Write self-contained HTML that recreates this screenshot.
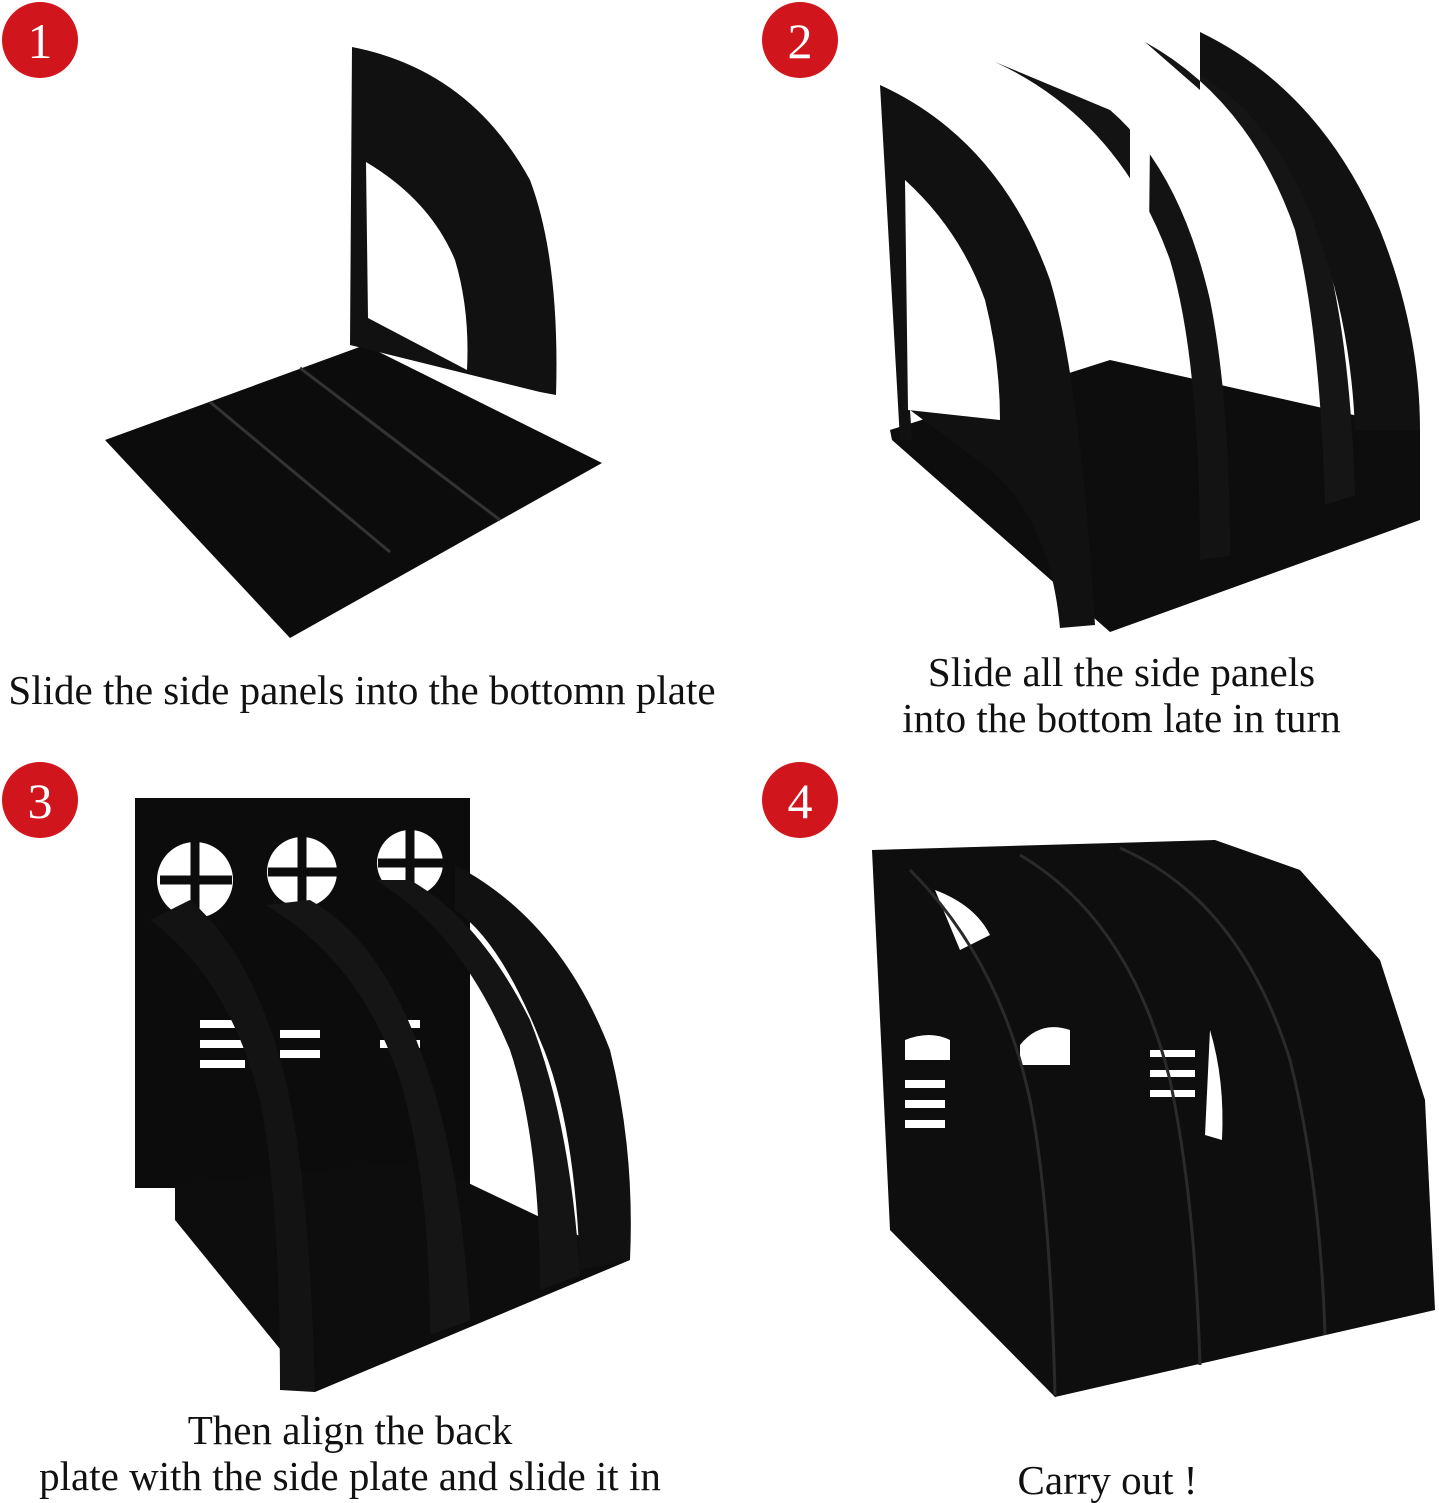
<!DOCTYPE html>
<html><head><meta charset="utf-8"><style>
html,body{margin:0;padding:0;background:#fff;}
body{width:1439px;height:1500px;position:relative;overflow:hidden;font-family:"Liberation Serif",serif;}
.t{position:absolute;font-size:41px;color:#111;text-align:center;line-height:46px;white-space:nowrap;}
</style></head><body>
<svg width="1439" height="1500" style="position:absolute;left:0;top:0">
<g font-family="Liberation Serif, serif" font-size="50" fill="#fff" text-anchor="middle">
<circle cx="40" cy="40" r="38" fill="#d0161c"/><text x="40" y="58">1</text>
<circle cx="800" cy="40" r="38" fill="#d0161c"/><text x="800" y="58">2</text>
<circle cx="40" cy="800" r="38" fill="#d0161c"/><text x="40" y="818">3</text>
<circle cx="800" cy="800" r="38" fill="#d0161c"/><text x="800" y="818">4</text>
</g>
<!-- Panel 1 -->
<polygon points="105,440 365,345 602,463 290,638" fill="#0c0c0c"/>
<line x1="210" y1="402" x2="390" y2="552" stroke="#333" stroke-width="3"/>
<line x1="300" y1="368" x2="500" y2="520" stroke="#333" stroke-width="3"/>
<path d="M350,345 L352,47 Q470,70 530,180 Q560,260 556,395 L540,392 Z" fill="#111"/>
<path d="M366,162 Q430,200 455,260 Q470,310 467,370 L368,318 Z" fill="#fff"/>
<!-- Panel 2 -->
<polygon points="890,430 1110,360 1420,430 1420,520 1110,632 892,440" fill="#0d0d0d"/>
<path d="M880,85 Q1000,140 1050,280 Q1080,380 1095,625 L1060,628 Q1050,520 990,470 L910,410 L912,440 L900,440 Z" fill="#111"/>
<path d="M905,180 Q960,230 985,300 Q1000,360 1000,420 L908,410 Z" fill="#fff"/>
<path d="M995,62 Q1120,120 1170,260 Q1200,360 1200,560 L1230,556 Q1230,400 1210,300 Q1180,170 1110,110 Z" fill="#131313"/>
<path d="M1145,42 Q1250,100 1295,230 Q1320,330 1325,505 L1355,495 Q1350,330 1320,230 Q1280,110 1200,45 L1200,90 Z" fill="#151515"/>
<path d="M1200,32 Q1320,90 1380,230 Q1420,330 1420,430 L1355,430 Q1350,300 1300,190 Q1260,110 1200,75 Z" fill="#111"/>
<path d="M1130,120 L1150,140 L1148,330 L1130,340 Z" fill="#fff"/>
<!-- Panel 3 -->
<rect x="135" y="798" width="335" height="390" fill="#0c0c0c"/>
<g fill="#fff">
<circle cx="195" cy="880" r="38"/><circle cx="302" cy="872" r="35"/><circle cx="410" cy="863" r="33"/>
</g>
<g stroke="#0c0c0c" stroke-width="9">
<line x1="160" y1="880" x2="232" y2="880"/><line x1="195" y1="842" x2="195" y2="920"/>
<line x1="268" y1="872" x2="338" y2="872"/><line x1="302" y1="836" x2="302" y2="908"/>
<line x1="378" y1="863" x2="444" y2="863"/><line x1="410" y1="830" x2="410" y2="897"/>
</g>
<g fill="#fff"><rect x="200" y="1020" width="45" height="8"/><rect x="200" y="1040" width="45" height="8"/><rect x="200" y="1060" width="45" height="8"/><rect x="280" y="1030" width="40" height="8"/><rect x="280" y="1050" width="40" height="8"/><rect x="380" y="1020" width="40" height="8"/><rect x="380" y="1040" width="40" height="8"/></g>
<polygon points="175,1185 420,1160 630,1260 315,1392 175,1220" fill="#0d0d0d"/>
<path d="M150,920 Q230,980 260,1100 Q280,1200 280,1390 L315,1392 Q310,1200 290,1100 Q260,960 190,900 Z" fill="#131313"/>
<path d="M265,905 Q360,960 400,1080 Q430,1180 430,1335 L470,1320 Q460,1150 420,1050 Q380,940 310,900 Z" fill="#151515"/>
<path d="M375,880 Q460,930 510,1050 Q540,1140 540,1290 L580,1275 Q570,1120 530,1020 Q480,920 410,880 Z" fill="#141414"/>
<path d="M455,865 Q560,920 610,1050 Q635,1150 630,1260 L580,1270 Q575,1120 540,1040 Q500,940 455,910 Z" fill="#111"/>
<!-- Panel 4 -->
<polygon points="872,850 1215,840 1300,870 1380,960 1425,1100 1435,1310 1055,1397 890,1230" fill="#0e0e0e"/>
<path d="M935,890 Q975,905 990,935 L960,950 Z" fill="#fff"/>
<path d="M905,1040 Q930,1030 950,1040 L950,1060 L905,1060 Z" fill="#fff"/>
<path d="M1020,1045 Q1040,1020 1070,1030 L1070,1065 L1020,1065 Z" fill="#fff"/>
<g fill="#fff"><rect x="905" y="1080" width="40" height="8"/><rect x="905" y="1100" width="40" height="8"/><rect x="905" y="1120" width="40" height="8"/><rect x="1150" y="1050" width="45" height="7"/><rect x="1150" y="1070" width="45" height="7"/><rect x="1150" y="1090" width="45" height="7"/></g>
<path d="M1210,1030 Q1225,1080 1222,1140 L1205,1135 Z" fill="#fff"/>
<g stroke="#2a2a2a" stroke-width="3" fill="none">
<path d="M910,870 Q1000,960 1030,1100 Q1050,1200 1055,1395"/>
<path d="M1020,855 Q1130,920 1170,1080 Q1195,1200 1200,1365"/>
<path d="M1120,848 Q1240,900 1290,1060 Q1320,1180 1325,1335"/>
</g>
</svg>
<div class="t" style="left:0;width:724px;top:667px;">Slide the side panels into the bottomn plate</div>
<div class="t" style="left:800px;width:643px;top:649px;">Slide all the side panels<br>into the bottom late in turn</div>
<div class="t" style="left:0;width:700px;top:1407px;">Then align the back<br>plate with the side plate and slide it in</div>
<div class="t" style="left:800px;width:615px;top:1457px;">Carry out !</div>
</body></html>
